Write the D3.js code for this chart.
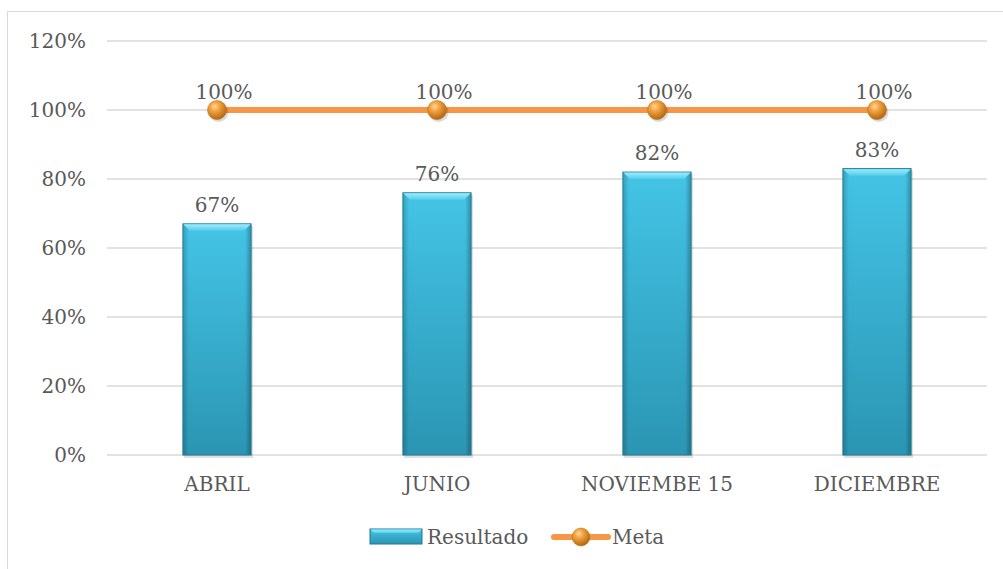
<!DOCTYPE html>
<html><head><meta charset="utf-8">
<script src="https://cdn.jsdelivr.net/npm/d3@7"></script>
<style>body{margin:0;background:#fff;} text{font-family:"DejaVu Serif",serif;fill:#595959;}</style>
</head><body>
<svg id="c" width="1003" height="569"></svg>
<script>
const categories = ["ABRIL","JUNIO","NOVIEMBE 15","DICIEMBRE"];
const resultado = [0.67,0.76,0.82,0.83];
const meta = [1,1,1,1];
const yTicks = [0,0.2,0.4,0.6,0.8,1.0,1.2];

const svg = d3.select("#c");
const defs = svg.append("defs");
const bg = defs.append("linearGradient").attr("id","barG").attr("x1","0").attr("x2","0").attr("y1","0").attr("y2","1");
bg.append("stop").attr("offset","0").attr("stop-color","#44c4e6");
bg.append("stop").attr("offset","1").attr("stop-color","#2b95b3");
const sg = defs.append("linearGradient").attr("id","sideG").attr("x1","0").attr("x2","1").attr("y1","0").attr("y2","0");
sg.append("stop").attr("offset","0").attr("stop-color","#000").attr("stop-opacity",0.18);
sg.append("stop").attr("offset","0.08").attr("stop-color","#000").attr("stop-opacity",0);
sg.append("stop").attr("offset","0.92").attr("stop-color","#000").attr("stop-opacity",0);
sg.append("stop").attr("offset","1").attr("stop-color","#000").attr("stop-opacity",0.25);
const tg = defs.append("linearGradient").attr("id","topG").attr("x1","0").attr("x2","0").attr("y1","0").attr("y2","1");
tg.append("stop").attr("offset","0").attr("stop-color","#9debfb");
tg.append("stop").attr("offset","1").attr("stop-color","#52cdec");
const rg = defs.append("radialGradient").attr("id","ballG").attr("cx","0.38").attr("cy","0.32").attr("r","0.7");
rg.append("stop").attr("offset","0").attr("stop-color","#ffd9a0");
rg.append("stop").attr("offset","0.35").attr("stop-color","#f4a340");
rg.append("stop").attr("offset","1").attr("stop-color","#b0650f");

// frame
svg.append("rect").attr("x",7.5).attr("y",11.5).attr("width",1003).attr("height",600).attr("fill","none").attr("stroke","#d9d9d9");

const x = d3.scaleBand().domain(categories).range([107,987]).paddingInner(0.69).paddingOuter(0.345);
const y = d3.scaleLinear().domain([0,1.2]).range([455,41]);

// grid
svg.append("g").selectAll("line").data(yTicks).join("line")
  .attr("x1",107).attr("x2",987).attr("y1",d=>y(d)).attr("y2",d=>y(d))
  .attr("stroke","#d9d9d9").attr("stroke-width",1.3);

// y axis labels
const yAxis = d3.axisLeft(y).tickValues(yTicks).tickFormat(d3.format(".0%")).tickSize(0).tickPadding(0);
const ya = svg.append("g").attr("transform","translate(86,0)").call(yAxis);
ya.select(".domain").remove();
ya.selectAll("text").attr("font-size",20).attr("fill","#595959").attr("font-family","DejaVu Serif");

// x axis labels
const xAxis = d3.axisBottom(x).tickSize(0).tickPadding(0);
const xa = svg.append("g").attr("transform","translate(0,491)").call(xAxis);
xa.select(".domain").remove();
xa.selectAll("text").attr("font-size",20).attr("fill","#595959").attr("dy","0").attr("font-family","DejaVu Serif");

// bars
const bw = x.bandwidth();
const bars = svg.append("g").selectAll("g").data(resultado).join("g");
bars.append("rect").attr("x",(d,i)=>x(categories[i])+1).attr("y",d=>y(d)+2).attr("width",bw+1).attr("height",d=>y(0)-y(d)+1)
  .attr("fill","#000").attr("opacity",0.12);
bars.append("rect").attr("x",(d,i)=>x(categories[i])).attr("y",d=>y(d)).attr("width",bw).attr("height",d=>y(0)-y(d))
  .attr("fill","url(#barG)").attr("stroke","#1f7892").attr("stroke-width",1);
bars.append("rect").attr("x",(d,i)=>x(categories[i])+0.5).attr("y",d=>y(d)+0.5).attr("width",bw-1).attr("height",d=>y(0)-y(d)-1)
  .attr("fill","url(#sideG)");
bars.append("path").attr("d",(d,i)=>{const x0=x(categories[i]),y0=y(d);return `M${x0+0.5},${y0+0.5}H${x0+bw-0.5}L${x0+bw-7},${y0+7}H${x0+7}Z`;})
  .attr("fill","url(#topG)");
bars.append("text").attr("x",(d,i)=>x(categories[i])+bw/2).attr("y",d=>y(d)-12)
  .attr("text-anchor","middle").attr("font-size",20).text(d=>d3.format(".0%")(d));

// line
const cx = (i)=>x(categories[i])+bw/2;
const line = d3.line().x((d,i)=>cx(i)).y(d=>y(d));
svg.append("path").datum(meta).attr("d",line).attr("fill","none").attr("stroke","#f79646").attr("stroke-width",6);
svg.append("g").selectAll("circle.s").data(meta).join("circle").attr("cx",(d,i)=>cx(i)+1.5).attr("cy",d=>y(d)+2).attr("r",10).attr("fill","#000").attr("opacity",0.15);
svg.append("g").selectAll("circle.b").data(meta).join("circle").attr("cx",(d,i)=>cx(i)).attr("cy",d=>y(d)).attr("r",9.5).attr("fill","url(#ballG)").attr("stroke","#c47418").attr("stroke-width",0.6);
svg.append("g").selectAll("text").data(meta).join("text").attr("x",(d,i)=>cx(i)+7).attr("y",d=>y(d)-11)
  .attr("text-anchor","middle").attr("font-size",20).text(d=>d3.format(".0%")(d));

// legend
const lg = svg.append("g");
lg.append("rect").attr("x",370).attr("y",529).attr("width",52).attr("height",15).attr("fill","url(#barG)").attr("stroke","#1f7892");
lg.append("path").attr("d","M370.5,529.5H421.5L418,533H374Z").attr("fill","url(#topG)");
lg.append("text").attr("x",427).attr("y",544).attr("font-size",20).text("Resultado");
lg.append("line").attr("x1",554).attr("x2",608).attr("y1",537).attr("y2",537).attr("stroke","#f79646").attr("stroke-width",6).attr("stroke-linecap","round");
lg.append("circle").attr("cx",581).attr("cy",537).attr("r",9).attr("fill","url(#ballG)").attr("stroke","#c47418").attr("stroke-width",0.6);
lg.append("text").attr("x",612).attr("y",544).attr("font-size",20).text("Meta");
</script>
</body></html>
